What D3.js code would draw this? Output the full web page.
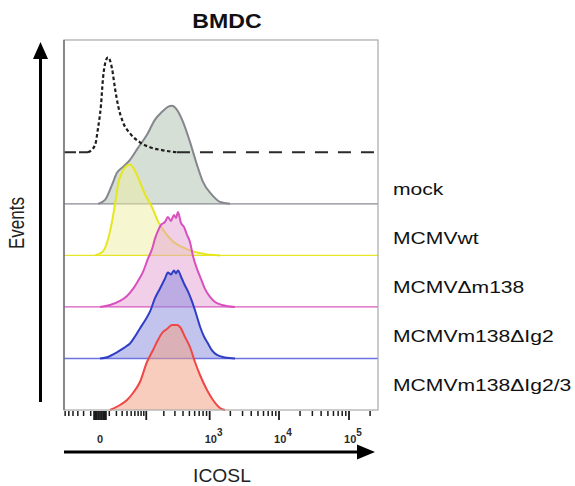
<!DOCTYPE html>
<html>
<head>
<meta charset="utf-8">
<script src="https://cdn.jsdelivr.net/npm/d3@7"></script>
<style>
  body { margin: 0; background: #fff; }
  svg { display: block; font-family: "Liberation Sans", Arial, sans-serif; }
</style>
</head>
<body>
<div id="chart"></div>
<script>
// histogram traces: [ICOSL intensity, % of max]
const isotype = [[-13.5, 0], [-5, 7], [-1.9, 24], [0.9, 47], [2.9, 74], [6.1, 92], [8.4, 95], [13.5, 84],
  [17.8, 64], [22.6, 47], [31.6, 30], [47, 19], [76, 10], [117, 5], [194, 2], [323, 0]];
const mock = [[-1.9, 0], [5, 4], [13.5, 19], [20.9, 31], [31.6, 37], [47, 44], [69.6, 56], [103, 69],
  [142, 84], [187, 92], [233, 97], [270, 98], [323, 94], [400, 82], [510, 62], [650, 39], [797, 22],
  [1081, 9], [1415, 2], [1975, 0]];
const wt = [[-5, 0], [2.9, 4], [10.9, 24], [17.8, 51], [22.6, 71], [29.7, 83], [40, 90], [47, 91],
  [54.8, 88], [69.6, 78], [94.8, 61], [127, 48], [160, 34], [209, 23], [280, 14], [400, 8], [566, 4],
  [913, 1], [1415, 0]];
const dm138 = [[0, 0], [10.9, 2], [26, 6], [40, 11], [54.8, 18], [69.6, 26], [87, 35], [107, 48],
  [127, 58], [142, 68], [160, 76], [180, 82], [209, 85], [233, 90], [260, 86], [290, 92], [312, 89],
  [335, 95], [372, 84], [414, 80], [460, 72], [510, 65], [566, 51], [650, 38], [745, 28], [853, 18],
  [1011, 10], [1196, 5], [1513, 2], [2332, 0]];
const dIg2 = [[0, 0], [8.4, 1.5], [17.8, 5], [26, 8], [37.8, 12], [47, 15], [60.4, 22], [76, 30],
  [94.8, 38], [117, 47], [142, 60], [173, 70], [209, 80], [233, 86], [260, 84], [290, 88], [312, 85],
  [335, 88], [372, 82], [414, 75], [476, 67], [547, 57], [628, 45], [720, 32], [825, 22], [945, 15],
  [1081, 8], [1279, 3.5], [1672, 1], [2332, 0]];
const dIg23 = [[10.9, 0], [26, 5], [40, 10], [54.8, 17], [76, 28], [103, 48], [132, 60], [160, 70],
  [187, 77], [225, 81], [270, 85], [323, 85], [360, 83], [429, 73], [510, 63], [606, 48], [720, 35],
  [913, 20], [1118, 10], [1415, 2], [1672, 0]];

const labels = ["mock", "MCMVwt", "MCMV\u0394m138", "MCMVm138\u0394Ig2", "MCMVm138\u0394Ig2/3"];
const traces = [mock, wt, dm138, dIg2, dIg23];

const majorTicks = [-6, -4.5, -3, -1.5, 0, 1.5, 3, 4.5, 6, 100, 1000, 10000, 100000];
const minorTicks = [-60, -50, -40, -30, -20, -10, 10, 20, 30, 40, 50, 60, 70, 80, 90,
  200, 300, 400, 500, 600, 700, 800, 900, 2000, 3000, 4000, 5000, 6000, 7000, 8000, 9000,
  20000, 30000, 40000, 50000, 60000, 70000, 80000, 90000, 200000];
const tickLabelValues = [0, 1000, 10000, 100000];
const tickLabelExp = ["", "3", "4", "5"];

const strokes = ["#86868f", "#e6e61e", "#d94fbd", "#2f3ec6", "#f04646"];
const fills = ["#abbfad", "#ededa1", "#e59fd3", "#8589dd", "#f39b7d"];
const baseColors = ["#8a8a92", "#e6e628", "#d958bf", "#6b74e0", null];

const W = 575, H = 486;
const frame = { left: 64, right: 378, top: 40, bottom: 410 };

const svg = d3.select("#chart").append("svg")
  .attr("width", W)
  .attr("height", H);

const x = d3.scaleSymlog().constant(28)
  .domain([0, 100000])
  .range([100, 349]);
const xLo = x.invert(frame.left), xHi = x.invert(frame.right);

// one baseline per row, isotype on row 0
const base = d3.scaleLinear().domain([0, 5]).range([152.3, frame.bottom]);
const h = d3.scaleLinear().domain([0, 100]).range([0, 100]);

const plot = svg.append("g");

traces.forEach((data, k) => {
  const i = k + 1;
  const area = d3.area()
    .curve(d3.curveMonotoneX)
    .x(d => x(d[0]))
    .y0(base(i))
    .y1(d => base(i) - h(d[1]));
  const line = d3.line()
    .curve(d3.curveMonotoneX)
    .x(d => x(d[0]))
    .y(d => base(i) - h(d[1]));

  plot.append("path")
    .attr("d", area(data))
    .attr("fill", fills[k])
    .attr("fill-opacity", 0.5);

  if (baseColors[k]) {
    plot.append("line")
      .attr("x1", x(xLo)).attr("x2", x(xHi))
      .attr("y1", base(i)).attr("y2", base(i))
      .attr("stroke", baseColors[k])
      .attr("stroke-width", 1.4);
  }

  plot.append("path")
    .attr("d", line(data))
    .attr("fill", "none")
    .attr("stroke", strokes[k])
    .attr("stroke-width", 2)
    .attr("stroke-linejoin", "round");
});

// frame
svg.append("rect")
  .attr("x", frame.left).attr("y", frame.top)
  .attr("width", frame.right - frame.left).attr("height", frame.bottom - frame.top)
  .attr("fill", "none").attr("stroke", "#a8a8a8").attr("stroke-width", 1.2);
svg.append("line")
  .attr("x1", frame.left).attr("x2", frame.left)
  .attr("y1", frame.top).attr("y2", frame.bottom)
  .attr("stroke", "#5a5a62").attr("stroke-width", 1.2);

// isotype control, dotted curve + dashed baseline
const isoLine = d3.line()
  .curve(d3.curveMonotoneX)
  .x(d => x(d[0]))
  .y(d => base(0) - h(d[1]));

plot.append("path")
  .attr("d", isoLine([[xLo, 0], isotype[0]]))
  .attr("fill", "none").attr("stroke", "#2a2a2a")
  .attr("stroke-width", 2).attr("stroke-dasharray", "12,3");
plot.append("path")
  .attr("d", isoLine(isotype))
  .attr("fill", "none").attr("stroke", "#1e1e1e")
  .attr("stroke-width", 2.2).attr("stroke-dasharray", "3.5,2.5");
plot.append("path")
  .attr("d", isoLine([isotype[isotype.length - 1], [xHi, 0]]))
  .attr("fill", "none").attr("stroke", "#2a2a2a")
  .attr("stroke-width", 2).attr("stroke-dasharray", "13,10");

// x ticks
const ticks = svg.append("g");
ticks.selectAll("line.maj").data(majorTicks).join("line")
  .attr("class", "maj")
  .attr("x1", d => x(d)).attr("x2", d => x(d))
  .attr("y1", frame.bottom + 1).attr("y2", frame.bottom + 10)
  .attr("stroke", "#1a1a1a")
  .attr("stroke-width", 1.8);
ticks.selectAll("line.min").data(minorTicks).join("line")
  .attr("class", "min")
  .attr("x1", d => x(d)).attr("x2", d => x(d))
  .attr("y1", frame.bottom + 1).attr("y2", frame.bottom + 6)
  .attr("stroke", "#1a1a1a")
  .attr("stroke-width", 1.5);

const tl = svg.append("g")
  .attr("font-size", 11)
  .attr("font-weight", "bold")
  .attr("fill", "#2a2a2a");
tickLabelValues.forEach((v, j) => {
  const t = tl.append("text")
    .attr("x", x(v))
    .attr("y", 443)
    .attr("text-anchor", "middle");
  if (tickLabelExp[j]) {
    t.append("tspan").text("10");
    t.append("tspan").attr("font-size", 10).attr("dy", -7).text(tickLabelExp[j]);
    t.attr("x", x(v) + 4);
  } else {
    t.text("0");
  }
});

// axis arrows
svg.append("line")
  .attr("x1", frame.left).attr("x2", 362)
  .attr("y1", 452).attr("y2", 452)
  .attr("stroke", "#000").attr("stroke-width", 3);
svg.append("path")
  .attr("d", "M357,444.5L375,452L357,459.5Z")
  .attr("fill", "#000");

svg.append("line")
  .attr("x1", 40.5).attr("x2", 40.5)
  .attr("y1", 402).attr("y2", 54)
  .attr("stroke", "#000").attr("stroke-width", 3);
svg.append("path")
  .attr("d", "M33,59L40.5,42L48,59Z")
  .attr("fill", "#000");

// titles
svg.append("text")
  .attr("transform", "translate(227,28) scale(1.1,1)")
  .attr("text-anchor", "middle")
  .attr("font-size", 21)
  .attr("font-weight", "bold")
  .attr("fill", "#111")
  .text("BMDC");

svg.append("text")
  .attr("transform", "translate(222,482) scale(1.07,1)")
  .attr("text-anchor", "middle")
  .attr("font-size", 18)
  .attr("fill", "#222")
  .text("ICOSL");

svg.append("text")
  .attr("transform", "translate(24,223) scale(1.3,1) rotate(-90)")
  .attr("text-anchor", "middle")
  .attr("font-size", 17)
  .attr("fill", "#222")
  .text("Events");

// sample labels
const labelY = d3.scaleLinear().domain([0, 4]).range([195, 391]);
svg.append("g")
  .selectAll("text")
  .data(labels)
  .join("text")
  .attr("transform", (d, j) => `translate(393,${labelY(j)}) scale(1.32,1)`)
  .attr("font-size", 16)
  .attr("fill", "#111")
  .text(d => d);
</script>
</body>
</html>
